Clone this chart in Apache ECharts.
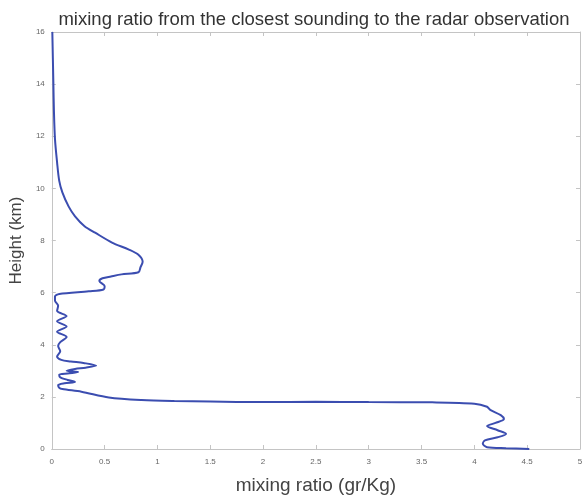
<!DOCTYPE html>
<html>
<head>
<meta charset="utf-8">
<script src="https://cdn.jsdelivr.net/npm/echarts@6/dist/echarts.min.js"></script>
<style>html,body{margin:0;padding:0;background:#fff;}#c{width:586px;height:500px;}</style>
</head>
<body>
<div id="c"></div>
<script>
// mixing ratio (gr/Kg), bottom to top
const mixing = [4.52,4.3,4.12,4.08,4.1,4.22,4.3,4.22,4.12,4.2,4.28,4.25,4.15,4.12,4.0,3.6,3.0,2.5,2.0,1.5,1.16,0.85,0.54,0.28,0.1,
  0.07,0.06,0.12,0.22,0.15,0.08,0.07,0.15,0.25,0.14,0.22,0.32,0.42,0.3,0.18,0.09,0.05,0.08,0.06,0.08,0.14,0.05,0.14,0.05,0.14,0.05,0.06,0.03,0.03,0.07,
  0.35,0.49,0.5,0.45,0.48,0.56,0.66,0.82,0.84,0.86,0.82,0.73,0.57,0.41,0.31,0.22,0.16,0.1,0.07,0.05,0.03,0.02,0.015,0.01,0.005];
// height (km)
const height = [0.0,0.03,0.07,0.2,0.33,0.45,0.58,0.72,0.88,1.0,1.15,1.3,1.5,1.62,1.74,1.79,1.8,1.81,1.8,1.82,1.84,1.88,1.98,2.2,2.3,
  2.35,2.45,2.52,2.57,2.65,2.75,2.85,2.9,2.95,3.0,3.07,3.12,3.2,3.3,3.36,3.42,3.55,3.75,3.95,4.1,4.3,4.5,4.7,4.9,5.1,5.3,5.5,5.7,5.85,5.95,
  6.05,6.12,6.25,6.45,6.55,6.62,6.7,6.78,6.98,7.18,7.45,7.65,7.92,8.3,8.55,8.93,9.3,9.85,10.3,11,11.9,13,14,15,16];
const xTicks = ['0','0.5','1','1.5','2','2.5','3','3.5','4','4.5','5'];
const yTicks = ['0','2','4','6','8','10','12','14','16'];

const points = mixing.map((v, i) => [v, height[i]]);
const frame = '#c4c4c4';
const font = 'Liberation Sans';
const chart = echarts.init(document.getElementById('c'), null, {renderer: 'canvas'});
const axisCommon = {
  axisLine: {show: true, onZero: false, lineStyle: {color: frame, width: 1}},
  axisTick: {show: true, inside: true, length: 4, lineStyle: {color: frame}},
  splitLine: {show: false}
};
chart.setOption({
  animation: false,
  backgroundColor: '#fff',
  title: {
    text: 'mixing ratio from the closest sounding to the radar observation',
    left: 309, top: 5, textAlign: 'center',
    textStyle: {fontFamily: font, fontSize: 18.5, fontWeight: 'normal', color: '#333'}
  },
  grid: {left: 50, right: 6, top: 32, bottom: 49, containLabel: false},
  xAxis: [
    Object.assign({
      type: 'value', min: 0, max: 5, interval: 0.5, position: 'bottom',
      name: 'mixing ratio (gr/Kg)', nameLocation: 'middle', nameGap: 27,
      nameTextStyle: {fontFamily: font, fontSize: 19, color: '#444'},
      axisLabel: {fontFamily: font, fontSize: 8, color: '#666', margin: 9,
        formatter: (v) => { const i = Math.round(v / 0.5); return xTicks[i] !== undefined ? xTicks[i] : ''; }}
    }, axisCommon),
    Object.assign({
      type: 'value', min: 0, max: 5, interval: 0.5, position: 'top',
      axisLabel: {show: false}
    }, axisCommon)
  ],
  yAxis: [
    Object.assign({
      type: 'value', min: 0, max: 16, interval: 2, position: 'left',
      name: 'Height (km)', nameLocation: 'middle', nameGap: 24, nameRotate: 90,
      nameTextStyle: {fontFamily: font, fontSize: 17, color: '#444'},
      axisLabel: {fontFamily: font, fontSize: 8, color: '#666', margin: 7,
        formatter: (v) => { const i = Math.round(v / 2); return yTicks[i] !== undefined ? yTicks[i] : ''; }}
    }, axisCommon),
    Object.assign({
      type: 'value', min: 0, max: 16, interval: 2, position: 'right',
      axisLabel: {show: false}
    }, axisCommon)
  ],
  series: [{
    type: 'line',
    data: points,
    xAxisIndex: 0, yAxisIndex: 0,
    showSymbol: false,
    smooth: 0.3,
    lineStyle: {color: '#3b4db0', width: 2},
    itemStyle: {color: '#3b4db0'}
  }]
});
</script>
</body>
</html>
